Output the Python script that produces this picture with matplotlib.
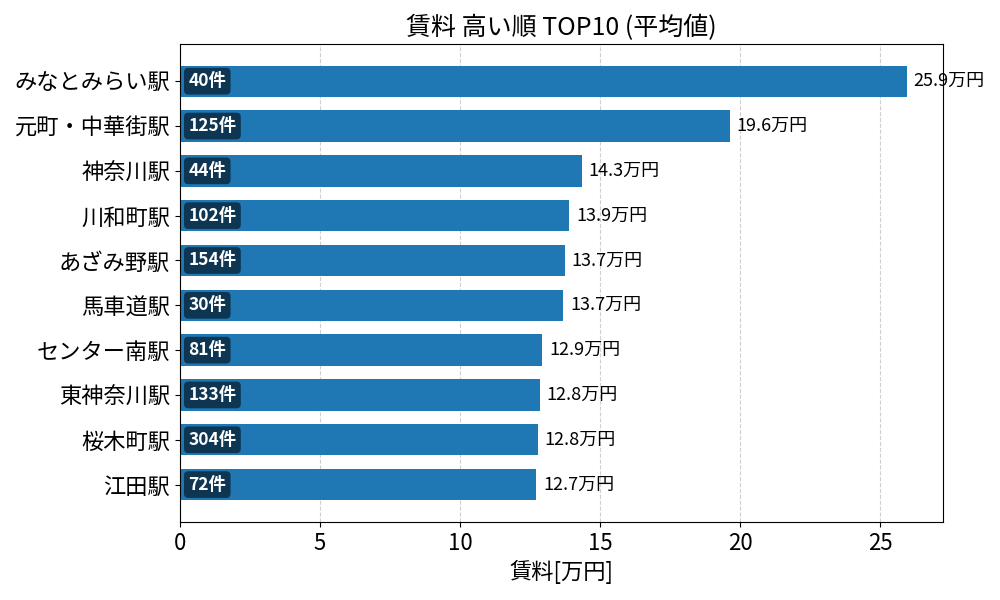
import numpy as np
import matplotlib.pyplot as plt

plt.rcParams['font.family'] = ['Noto Sans CJK JP', 'DejaVu Sans']

stations = ['みなとみらい駅', '元町・中華街駅', '神奈川駅', '川和町駅', 'あざみ野駅',
            '馬車道駅', 'センター南駅', '東神奈川駅', '桜木町駅', '江田駅']
rents = [25.94, 19.62, 14.34, 13.9, 13.74, 13.68, 12.94, 12.84, 12.77, 12.72]
counts = [40, 125, 44, 102, 154, 30, 81, 133, 304, 72]

fig, ax = plt.subplots(figsize=(10, 6), dpi=100)
y = np.arange(len(stations))[::-1]
bars = ax.barh(y, rents, height=0.7, color='#1f77b4')

for b, r, c in zip(bars, rents, counts):
    yc = b.get_y() + b.get_height() / 2
    ax.annotate(f'{r:.1f}万円', (b.get_width(), yc), xytext=(5, 0),
                textcoords='offset points', va='center', ha='left', fontsize=13)
    ax.annotate(f'{c}件', (0, yc), xytext=(6, 0), textcoords='offset points',
                va='center', ha='left', fontsize=12.5, fontweight='bold', color='white',
                bbox=dict(boxstyle='round,pad=0.25', fc='black', ec='none', alpha=0.55))

ax.set_yticks(y)
ax.set_yticklabels(stations, fontsize=16)
ax.tick_params(axis='x', labelsize=16)
ax.set_xlabel('賃料[万円]', fontsize=16)
ax.set_title('賃料 高い順 TOP10 (平均値)', fontsize=18)
ax.grid(axis='x', linestyle='--', alpha=0.6)
ax.set_axisbelow(True)
ax.set_xlim(0, max(rents) * 1.05)

plt.subplots_adjust(left=0.18, right=0.943, top=0.927, bottom=0.13)
plt.savefig('out.png')
